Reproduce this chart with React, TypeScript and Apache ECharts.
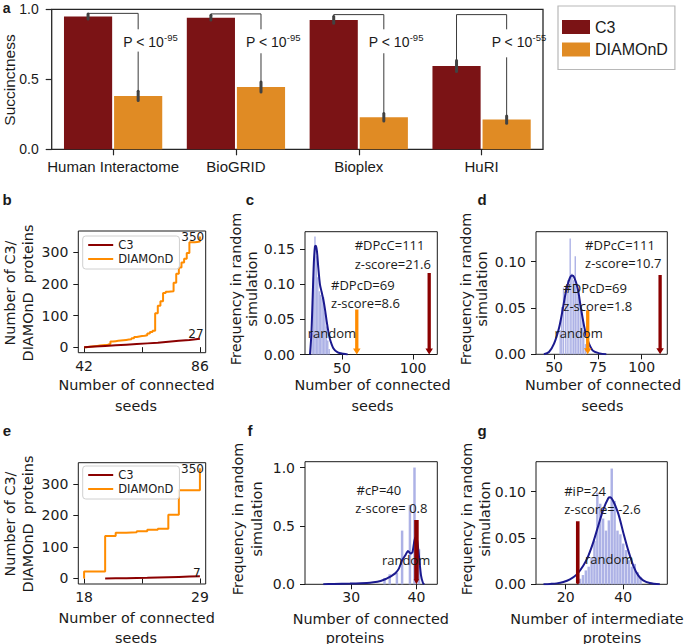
import { useEffect, useRef } from "react";
import * as echarts from "echarts";

const FONT_A = "'Liberation Sans', Arial, Helvetica, sans-serif";
const FONT_M = "'DejaVu Sans', Verdana, sans-serif";
const FONT_N = "'Open Sans', 'Noto Sans', sans-serif";
const INK = "#1a1a1a";
const C3_BAR = "#7b1315";
const D_BAR = "#e08b24";
const C3_LINE = "#8b0000";
const D_LINE = "#ff8c00";
const HIST = "#adb2e6";
const KDE = "#1b1a8f";

// ---------- panel a ----------
const aCategories = ["Human Interactome", "BioGRID", "Bioplex", "HuRI"];
const aC3 = [0.948, 0.94, 0.924, 0.595];
const aC3Err = [0.018, 0.017, 0.024, 0.04];
const aDiamond = [0.381, 0.445, 0.229, 0.212];
const aDiamondErr = [0.033, 0.036, 0.026, 0.026];
const aBracketTop = [0.971, 0.967, 0.962, 0.962];
const aGapTop = [0.857, 0.857, 0.857, 0.857];
const aGapBottom = [0.698, 0.686, 0.686, 0.657];
const aPExp = ["-95", "-95", "-95", "-55"];
const aPLevel = 0.765;
const aYTicks = [0, 0.5, 1.0];

// ---------- panel b ----------
const bSeeds = [42, 43, 44, 45, 46, 47, 48, 49, 50, 51, 52, 53, 54, 55, 56, 57, 58, 59, 60, 61, 62, 63, 64, 65, 66, 67, 68, 69, 70, 71, 72, 73, 74, 75, 76, 77, 78, 79, 80, 81, 82, 83, 84, 85, 86];
const bDiamond = [0, 1, 2, 3, 4, 5, 6, 7, 8, 10, 18, 19, 20, 21, 22, 23, 24, 25, 28, 32, 34, 35, 36, 38, 43, 48, 52, 107, 131, 145, 171, 175, 176, 177, 204, 232, 252, 268, 280, 298, 332, 332, 333, 334, 350];
const bC3X = [42, 46, 50, 54, 58, 62, 66, 70, 74, 78, 82, 86];
const bC3Y = [0, 2, 4, 6, 8, 10, 12, 14, 17, 20, 23, 27];
const bNotes: [string, number, number][] = [["350", 83.3, 348.6], ["27", 84.5, 41]];
const bXTicks = [42, 64, 86];
const bXLabels = [42, 86];
const countTicks = [0, 100, 200, 300];

// ---------- panel c ----------
const cHistX = [29, 30, 31, 32, 33, 34, 35, 36, 37, 38, 39, 40, 41];
const cHistY = [0.03, 0.11, 0.168, 0.14, 0.11, 0.09, 0.085, 0.08, 0.082, 0.06, 0.04, 0.02, 0.008];
const cKdeX = [27.5, 28.5, 29.4, 30.2, 31, 31.7, 32.5, 33.3, 34.5, 35.7, 36.9, 38, 39.2, 40.4, 41.5, 43.9, 47, 51, 54];
const cKdeY = [0, 0.03, 0.082, 0.13, 0.154, 0.155, 0.145, 0.125, 0.1, 0.089, 0.078, 0.065, 0.048, 0.033, 0.022, 0.009, 0.003, 0.001, 0];
const cArrowX = [60.4, 111.3];
const cArrowTop = [0.064, 0.116];
const cNotes: [string, number, number][] = [
  ["#DPcC=111", 58.9, 0.156],
  ["z-score=21.6", 58.9, 0.1295],
  ["#DPcD=69", 42.3, 0.0987],
  ["z-score=8.6", 42.3, 0.0727],
  ["random", 25.9, 0.0301],
];

// ---------- panel d ----------
const dHistX = [53.5, 54.4, 55.4, 56.7, 57.9, 59.2, 60.2, 61.2, 62.1, 63.1, 64, 65, 66, 66.9, 67.9];
const dHistY = [0.026, 0.051, 0.072, 0.074, 0.08, 0.125, 0.087, 0.08, 0.106, 0.074, 0.062, 0.056, 0.044, 0.026, 0.011];
const dKdeX = [44.2, 47.1, 50, 52.9, 54.8, 56.7, 58.7, 60.2, 61.5, 63.5, 65.4, 67.3, 69.2, 72.1, 76, 79.8];
const dKdeY = [0, 0.0025, 0.0115, 0.029, 0.047, 0.067, 0.081, 0.085, 0.083, 0.071, 0.049, 0.029, 0.015, 0.004, 0.001, 0];
const dArrowX = [69.2, 110.5];
const dArrowTop = [0.0475, 0.0857];
const dNotes: [string, number, number][] = [
  ["#DPcC=111", 67.7, 0.118],
  ["z-score=10.7", 67.7, 0.0983],
  ["#DPcD=69", 55.3, 0.0719],
  ["z-score=1.8", 55.3, 0.0522],
  ["random", 50.2, 0.0227],
];

// ---------- panel e ----------
const eDiamondX = [18, 18, 20, 21, 22, 23, 24, 25, 26, 27, 29];
const eDiamondY = [0, 22, 135, 145, 147, 150, 155, 158, 202, 280, 350];
const eC3X = [20, 21, 22, 23, 24, 25, 26, 27, 28, 29];
const eC3Y = [0, 0.5, 1, 1.5, 2, 3, 4, 5, 6, 7];
const eNotes: [string, number, number][] = [["350", 28.3, 348.4], ["7", 28.7, 16]];
const eXTicks = [18, 23.5, 29];
const eXLabels = [18, 29];

// ---------- panel f ----------
const fHistX = [35.1, 35.9, 37.0, 37.8, 39.0, 39.7, 40.4];
const fHistY = [0.054, 0.086, 0.1, 0.46, 0.68, 1.0, 0.3];
const fKdeX = [25.7, 27.3, 29.8, 32.4, 33.4, 34.5, 35.2, 35.7, 36.3, 36.8, 37.3, 37.8, 38.3, 38.7, 39.1, 39.4, 39.8, 40.1, 40.4, 40.7, 41.0, 41.2];
const fKdeY = [0, 0.003, 0.006, 0.011, 0.017, 0.029, 0.043, 0.057, 0.077, 0.097, 0.134, 0.206, 0.249, 0.286, 0.263, 0.277, 0.4, 0.377, 0.234, 0.077, 0.011, 0];
const fArrowX = [40.0];
const fArrowTop = [0.55];
const fNotes: [string, number, number][] = [
  ["#cP=40", 30.8, 0.807],
  ["z-score= 0.8", 30.6, 0.651],
  ["random", 34.7, 0.208],
];

// ---------- panel g ----------
const gHistX = [25, 26, 27, 28, 29, 30, 31, 32, 33, 34, 35, 36, 37, 38, 39, 40, 41, 42, 43, 44, 45, 46];
const gHistY = [0.006, 0.01, 0.015, 0.019, 0.029, 0.047, 0.099, 0.087, 0.071, 0.058, 0.069, 0.125, 0.09, 0.058, 0.054, 0.044, 0.037, 0.026, 0.019, 0.022, 0.013, 0.008];
const gKdeX = [12.3, 14.6, 16.9, 19.2, 21.5, 23.8, 26.1, 27.9, 29.6, 31.3, 33.1, 34.8, 35.4, 36.5, 38.3, 40, 41.7, 43.5, 45.2, 46.9, 49.2, 52.7];
const gKdeY = [0, 0.0004, 0.001, 0.0025, 0.0054, 0.0104, 0.02, 0.031, 0.0455, 0.063, 0.081, 0.093, 0.094, 0.09, 0.076, 0.056, 0.037, 0.02, 0.0097, 0.0043, 0.0014, 0];
const gArrowX = [24.2];
const gArrowTop = [0.068];
const gNotes: [string, number, number][] = [
  ["#iP=24", 19.5, 0.101],
  ["z-score= -2.6", 19.5, 0.0812],
  ["random", 26.7, 0.0273],
];

const zip = (xs: number[], ys: number[]) => xs.map((x, i) => [x, ys[i]]);

function vAxis(grid: number, min: number, max: number, ticks: number[], labels: number[], fmt: (v: number) => string, margin: number) {
  return {
    type: "value",
    gridIndex: grid,
    min,
    max,
    axisLine: { show: false },
    axisTick: { show: true, inside: false, length: 5, lineStyle: { color: INK, width: 1 }, customValues: ticks },
    axisLabel: { show: true, customValues: labels, formatter: fmt, fontFamily: FONT_M, fontSize: 14, color: INK, margin },
    splitLine: { show: false },
  };
}

function histSeries(grid: number, xs: number[], ys: number[], binW: number) {
  return {
    type: "custom",
    name: "hist" + grid,
    xAxisIndex: grid,
    yAxisIndex: grid,
    silent: true,
    z: 2,
    data: zip(xs, ys),
    renderItem: (_p: any, api: any) => {
      const x = api.value(0);
      const h = api.value(1);
      const p0 = api.coord([x - binW / 2, h]);
      const p1 = api.coord([x + binW / 2, 0]);
      return { type: "rect", shape: { x: p0[0], y: p0[1], width: p1[0] - p0[0], height: p1[1] - p0[1] }, style: { fill: HIST } };
    },
  };
}

function kdeSeries(grid: number, xs: number[], ys: number[], smooth: number) {
  return {
    type: "line",
    name: "kde" + grid,
    xAxisIndex: grid,
    yAxisIndex: grid,
    data: zip(xs, ys),
    showSymbol: false,
    symbol: "none",
    smooth,
    silent: true,
    z: 3,
    lineStyle: { color: KDE, width: 2 },
  };
}

function arrowSeries(grid: number, xs: number[], tops: number[], colors: string[], shaftW: number, headW: number, headL: number) {
  return {
    type: "custom",
    name: "arrow" + grid,
    xAxisIndex: grid,
    yAxisIndex: grid,
    silent: true,
    z: 4,
    data: zip(xs, tops),
    renderItem: (p: any, api: any) => {
      const top = api.coord([api.value(0), api.value(1)]);
      const bot = api.coord([api.value(0), 0]);
      const cx = top[0];
      const s = shaftW / 2;
      const h = headW / 2;
      const hy = bot[1] - headL;
      return {
        type: "polygon",
        shape: {
          points: [
            [cx - s, top[1]], [cx + s, top[1]], [cx + s, hy], [cx + h, hy], [cx, bot[1]], [cx - h, hy], [cx - s, hy],
          ],
        },
        style: { fill: colors[p.dataIndex] },
      };
    },
  };
}

function noteSeries(grid: number, notes: [string, number, number][], font: string, size: number, align: string) {
  return {
    type: "custom",
    name: "note" + grid,
    xAxisIndex: grid,
    yAxisIndex: grid,
    silent: true,
    z: 6,
    data: notes.map((n) => [n[1], n[2]]),
    renderItem: (p: any, api: any) => {
      const pt = api.coord([api.value(0), api.value(1)]);
      return {
        type: "text",
        x: pt[0],
        y: pt[1],
        style: { text: notes[p.dataIndex][0], fill: INK, fontFamily: font, fontSize: size, align, verticalAlign: "middle" },
      };
    },
  };
}

function txt(text: string, x: number, y: number, size: number, font: string, rot = 0, weight = "normal") {
  return {
    type: "text",
    x,
    y,
    rotation: rot,
    silent: true,
    style: { text, fill: INK, fontSize: size, fontFamily: font, fontWeight: weight, align: "center", verticalAlign: "middle" },
  };
}

function buildOption() {
  const R = Math.PI / 2;
  const grids = [
    { left: 51.7, top: 9.3, width: 491.3, height: 140 },
    { left: 78.3, top: 231, width: 127.4, height: 121.7 },
    { left: 305, top: 231.7, width: 132.3, height: 122.8 },
    { left: 536, top: 231.7, width: 131.3, height: 122.6 },
    { left: 78.3, top: 462.7, width: 127.4, height: 121.3 },
    { left: 305, top: 461.7, width: 132.3, height: 122.6 },
    { left: 536, top: 461.7, width: 131.3, height: 122.6 },
  ].map((g, i) => ({
    ...g,
    show: true,
    borderColor: i === 0 ? "#262626" : INK,
    borderWidth: i === 0 ? 1.3 : 1,
    backgroundColor: "transparent",
    containLabel: false,
  }));

  const str = (v: number) => String(v);
  const f1 = (v: number) => v.toFixed(1);
  const f2 = (v: number) => v.toFixed(2);

  const xAxis: any[] = [
    {
      type: "category",
      gridIndex: 0,
      data: aCategories,
      axisLine: { show: false },
      axisTick: { show: true, alignWithLabel: true, length: 6, lineStyle: { color: "#262626", width: 1.2 } },
      axisLabel: { interval: 0, hideOverlap: false, fontFamily: FONT_A, fontSize: 15, color: INK, margin: 10 },
      splitLine: { show: false },
    },
    vAxis(1, 39.8, 88.2, bXTicks, bXLabels, str, 6),
    vAxis(2, 24, 117, [50, 100], [50, 100], str, 6),
    vAxis(3, 39.7, 114.6, [50, 75, 100], [50, 75, 100], str, 6),
    vAxis(4, 17.45, 29.55, eXTicks, eXLabels, str, 6),
    vAxis(5, 22.9, 43.2, [30, 40], [30, 40], str, 6),
    vAxis(6, 9.7, 55.3, [20, 40], [20, 40], str, 6),
  ];
  const yAxis: any[] = [
    {
      type: "value",
      gridIndex: 0,
      min: 0,
      max: 1,
      axisLine: { show: false },
      axisTick: { show: true, length: 6, lineStyle: { color: "#262626", width: 1.2 }, customValues: aYTicks },
      axisLabel: { customValues: aYTicks, formatter: f1, fontFamily: FONT_A, fontSize: 14, color: INK, margin: 13 },
      splitLine: { show: false },
    },
    vAxis(1, -17.5, 367.5, countTicks, countTicks, str, 10),
    vAxis(2, 0, 0.175, [0, 0.05, 0.1, 0.15], [0, 0.05, 0.1, 0.15], f2, 10),
    vAxis(3, 0, 0.1324, [0, 0.05, 0.1], [0, 0.05, 0.1], f2, 10),
    vAxis(4, -17.5, 367.5, countTicks, countTicks, str, 10),
    vAxis(5, 0, 1.05, [0, 0.5, 1.0], [0, 0.5, 1.0], f1, 10),
    vAxis(6, 0, 0.1324, [0, 0.05, 0.1], [0, 0.05, 0.1], f2, 10),
  ];

  const bracketSeries = {
    type: "custom",
    name: "brackets",
    xAxisIndex: 0,
    yAxisIndex: 0,
    silent: true,
    z: 5,
    data: aCategories.map((_, i) => [i, aC3[i]]),
    renderItem: (p: any, api: any) => {
      const i = p.dataIndex;
      const center = api.coord([i, 0])[0];
      const bw = api.size([1, 0])[0];
      const off = 0.204 * bw;
      const cx = center - off;
      const dx = center + off;
      const y = (v: number) => api.coord([i, v])[1];
      const eb = { stroke: "#424242", lineWidth: 3, lineCap: "round" };
      const ls = { stroke: "#3a3a3a", lineWidth: 1, fill: "none" };
      return {
        type: "group",
        children: [
          { type: "line", shape: { x1: cx, y1: y(aC3[i] - aC3Err[i]), x2: cx, y2: y(aC3[i] + aC3Err[i]) }, style: eb },
          { type: "line", shape: { x1: dx, y1: y(aDiamond[i] - aDiamondErr[i]), x2: dx, y2: y(aDiamond[i] + aDiamondErr[i]) }, style: eb },
          {
            type: "polyline",
            shape: { points: [[cx, y(aC3[i] + aC3Err[i])], [cx, y(aBracketTop[i])], [dx, y(aBracketTop[i])], [dx, y(aGapTop[i])]] },
            style: ls,
          },
          { type: "line", shape: { x1: dx, y1: y(aGapBottom[i]), x2: dx, y2: y(aDiamond[i] + aDiamondErr[i]) }, style: ls },
          {
            type: "text",
            x: dx - 15,
            y: y(aPLevel),
            style: {
              text: "{m|P < 10}{s|" + aPExp[i] + "}",
              align: "left",
              verticalAlign: "middle",
              rich: {
                m: { fontFamily: FONT_A, fontSize: 14, fill: INK, color: INK },
                s: { fontFamily: FONT_A, fontSize: 9.5, fill: INK, color: INK, padding: [0, 0, 10, 0] },
              },
            },
          },
        ],
      };
    },
  };

  const series: any[] = [
    { type: "bar", name: "C3", xAxisIndex: 0, yAxisIndex: 0, data: aC3, barCategoryGap: "20%", barGap: "4%", itemStyle: { color: C3_BAR }, silent: true },
    { type: "bar", name: "DIAMOnD", xAxisIndex: 0, yAxisIndex: 0, data: aDiamond, barCategoryGap: "20%", barGap: "4%", itemStyle: { color: D_BAR }, silent: true },
    bracketSeries,
    // b
    { type: "line", name: "C3", xAxisIndex: 1, yAxisIndex: 1, data: zip(bC3X, bC3Y), showSymbol: false, symbol: "none", lineStyle: { color: C3_LINE, width: 2 }, z: 3 },
    { type: "line", name: "DIAMOnD", xAxisIndex: 1, yAxisIndex: 1, data: zip(bSeeds, bDiamond), step: "end", showSymbol: false, symbol: "none", lineStyle: { color: D_LINE, width: 2 }, z: 2 },
    noteSeries(1, bNotes, FONT_M, 12, "center"),
    // c
    histSeries(2, cHistX, cHistY, 1.0),
    kdeSeries(2, cKdeX, cKdeY, 0.3),
    arrowSeries(2, cArrowX, cArrowTop, [D_LINE, C3_LINE], 3.3, 7.5, 6),
    noteSeries(2, cNotes, FONT_N, 13, "left"),
    // d
    histSeries(3, dHistX, dHistY, 0.8),
    kdeSeries(3, dKdeX, dKdeY, 0.3),
    arrowSeries(3, dArrowX, dArrowTop, [D_LINE, C3_LINE], 3.3, 7.5, 6),
    noteSeries(3, dNotes, FONT_N, 13, "left"),
    // e
    { type: "line", name: "C3", xAxisIndex: 4, yAxisIndex: 4, data: zip(eC3X, eC3Y), showSymbol: false, symbol: "none", lineStyle: { color: C3_LINE, width: 2 }, z: 3 },
    { type: "line", name: "DIAMOnD", xAxisIndex: 4, yAxisIndex: 4, data: zip(eDiamondX, eDiamondY), step: "end", showSymbol: false, symbol: "none", lineStyle: { color: D_LINE, width: 2 }, z: 2 },
    noteSeries(4, eNotes, FONT_M, 12, "center"),
    // f
    histSeries(5, fHistX, fHistY, 0.38),
    kdeSeries(5, fKdeX, fKdeY, 0.2),
    arrowSeries(5, fArrowX, fArrowTop, [C3_LINE], 4.5, 5.5, 5),
    noteSeries(5, fNotes, FONT_N, 13, "left"),
    // g
    histSeries(6, gHistX, gHistY, 0.85),
    kdeSeries(6, gKdeX, gKdeY, 0.3),
    arrowSeries(6, gArrowX, gArrowTop, [C3_LINE], 3.6, 3.6, 1),
    noteSeries(6, gNotes, FONT_N, 13, "left"),
  ];

  const lineLegend = (left: number, top: number) => ({
    show: true,
    orient: "vertical",
    left,
    top,
    selectedMode: false,
    itemWidth: 25,
    itemHeight: 2,
    itemGap: 2,
    padding: [3, 6, 4, 5.5],
    backgroundColor: "rgba(255,255,255,0.85)",
    borderColor: "#d0d0d0",
    borderWidth: 1,
    borderRadius: 3,
    textStyle: { fontFamily: FONT_M, fontSize: 11.5, color: INK },
    data: [
      { name: "C3", icon: "rect", itemStyle: { color: C3_LINE } },
      { name: "DIAMOnD", icon: "rect", itemStyle: { color: D_LINE } },
    ],
  });

  const legend = [
    {
      show: true,
      orient: "vertical",
      left: 558,
      top: 6,
      selectedMode: false,
      itemWidth: 28,
      itemHeight: 14,
      itemGap: 6.5,
      padding: [13, 7, 12, 4],
      backgroundColor: "#fff",
      borderColor: "#b8b8b8",
      borderWidth: 1.2,
      textStyle: { fontFamily: FONT_A, fontSize: 16, color: INK },
      data: [
        { name: "C3", icon: "rect", itemStyle: { color: C3_BAR } },
        { name: "DIAMOnD", icon: "rect", itemStyle: { color: D_BAR } },
      ],
    },
    lineLegend(82.7, 236),
    lineLegend(82.7, 466),
  ];

  const graphic = {
    elements: [
      txt("a", 6.7, 8, 14, FONT_A, 0, "bold"),
      txt("b", 7, 199, 15, FONT_A, 0, "bold"),
      txt("c", 250, 199, 15, FONT_A, 0, "bold"),
      txt("d", 482, 199, 15, FONT_A, 0, "bold"),
      txt("e", 7, 430, 15, FONT_A, 0, "bold"),
      txt("f", 250, 430, 15, FONT_A, 0, "bold"),
      txt("g", 482, 430, 15, FONT_A, 0, "bold"),
      txt("Succinctness", 9.5, 80, 15.5, FONT_A, R),
      // y titles
      txt("Number of C3/", 10, 293, 14.4, FONT_M, R),
      txt("DIAMOnD  proteins", 27.5, 293, 14.4, FONT_M, R),
      txt("Number of C3/", 10, 524, 14.4, FONT_M, R),
      txt("DIAMOnD  proteins", 28.3, 524, 14.4, FONT_M, R),
      txt("Frequency in random", 235.7, 289, 14.4, FONT_M, R),
      txt("simulation", 252.3, 289, 14.4, FONT_M, R),
      txt("Frequency in random", 465.7, 289, 14.4, FONT_M, R),
      txt("simulation", 482.3, 289, 14.4, FONT_M, R),
      txt("Frequency in random", 238.3, 519, 14.4, FONT_M, R),
      txt("simulation", 256.7, 519, 14.4, FONT_M, R),
      txt("Frequency in random", 466.7, 519, 14.4, FONT_M, R),
      txt("simulation", 485, 519, 14.4, FONT_M, R),
      // x titles
      txt("Number of connected", 136.5, 385, 14.4, FONT_M),
      txt("seeds", 136, 405.5, 14.4, FONT_M),
      txt("Number of connected", 372.5, 385, 14.4, FONT_M),
      txt("seeds", 372.5, 405.5, 14.4, FONT_M),
      txt("Number of connected", 603, 385, 14.4, FONT_M),
      txt("seeds", 602.5, 405.5, 14.4, FONT_M),
      txt("Number of connected", 136.7, 618, 14.4, FONT_M),
      txt("seeds", 136, 637.5, 14.4, FONT_M),
      txt("Number of connected", 370.8, 618.5, 14.4, FONT_M),
      txt("proteins", 355, 637.5, 14.4, FONT_M),
      txt("Number of intermediate", 597, 618.5, 14.4, FONT_M),
      txt("proteins", 612, 637.5, 14.4, FONT_M),
    ],
  };

  return {
    animation: false,
    backgroundColor: "#ffffff",
    grid: grids,
    xAxis,
    yAxis,
    legend,
    series,
    graphic,
  };
}

export default function App() {
  const ref = useRef<HTMLDivElement>(null);
  useEffect(() => {
    if (!ref.current) return;
    const chart = echarts.init(ref.current, null, { renderer: "svg" });
    chart.setOption(buildOption() as any);
    return () => chart.dispose();
  }, []);
  return (
    <div
      ref={ref}
      style={{ position: "fixed", left: 0, top: 0, width: 685, height: 644, background: "#fff" }}
    />
  );
}
